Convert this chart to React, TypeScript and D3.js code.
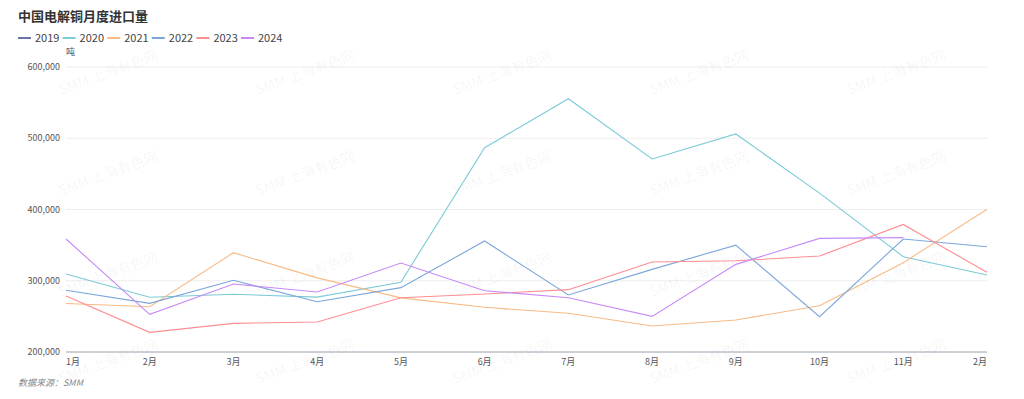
import React from 'react';
import * as d3 from 'd3';

const WIDTH = 1024;
const HEIGHT = 399;

const MARGIN = { top: 67, right: 37, bottom: 47, left: 66 };

const FONT = '"Noto Sans CJK SC", "Noto Sans", sans-serif';

// x categories (the last label reads "2月" in the source picture)
const MONTHS = ['1月', '2月', '3月', '4月', '5月', '6月', '7月', '8月', '9月', '10月', '11月', '2月'];

const YEARS = ['2019', '2020', '2021', '2022', '2023', '2024'];
const COLORS = ['#6a75a8', '#7ccbd8', '#f8bb85', '#7ba7da', '#ff8d92', '#c68af7'];

const Y_TICKS = [200000, 300000, 400000, 500000, 600000];

// monthly imports, tonnes
const V2019: (number | null)[] = [];
const V2020 = [309500, 276800, 281000, 277000, 298000, 486700, 555500, 470900, 506000, 423000, 333800, 308000];
const V2021 = [268000, 263600, 339400, 304000, 276000, 262700, 254300, 236500, 245000, 265000, 325400, 400300];
const V2022 = [286600, 268300, 300600, 270600, 290300, 355800, 280000, 316000, 350000, 249600, 358600, 347800];
const V2023 = [278600, 227600, 240200, 242000, 276200, 281400, 287500, 326300, 328000, 334700, 379000, 311800];
const V2024 = [358600, 252900, 295400, 284200, 324900, 286000, 276200, 250000, 323000, 359500, 360500, null];

const SERIES = [V2019, V2020, V2021, V2022, V2023, V2024];

const WM_X = [110, 307, 504, 701, 898];
const WM_Y = [77, 178, 279, 366];

export default function App() {
  const x = d3.scalePoint<number>()
    .domain(d3.range(MONTHS.length))
    .range([MARGIN.left, WIDTH - MARGIN.right]);

  const y = d3.scaleLinear()
    .domain([200000, 600000])
    .range([HEIGHT - MARGIN.bottom, MARGIN.top]);

  const fmt = d3.format(',');

  const line = d3.line<number | null>()
    .defined(d => d != null)
    .x((_, i) => x(i) as number)
    .y(d => y(d as number));

  const baseY = y(200000);

  return (
    <svg width={WIDTH} height={HEIGHT} viewBox={`0 0 ${WIDTH} ${HEIGHT}`}
      style={{ position: 'absolute', left: 0, top: 0, background: '#fff' }}
      fontFamily={FONT}>
      <text x={18} y={21} fontSize={13} fontWeight="bold" fill="#333">中国电解铜月度进口量</text>

      {YEARS.map((yr, i) => {
        const lx = 18 + i * 44.6;
        return (
          <g key={yr}>
            <line x1={lx} x2={lx + 13} y1={38} y2={38} stroke={COLORS[i]} strokeWidth={2} />
            <text x={lx + 17} y={42} fontSize={11} fill="#444">{yr}</text>
          </g>
        );
      })}

      <text x={MARGIN.left} y={55} fontSize={9} fill="#555">吨</text>

      {Y_TICKS.map(t => (
        <g key={t}>
          {t > 200000 && (
            <line x1={MARGIN.left} x2={WIDTH - MARGIN.right} y1={y(t)} y2={y(t)} stroke="#eeeeee" />
          )}
          <text x={MARGIN.left - 6} y={y(t) + 3} fontSize={9} fill="#555" textAnchor="end">{fmt(t)}</text>
        </g>
      ))}

      {WM_Y.map(wy => WM_X.map(wx => (
        <text key={`${wx}-${wy}`} x={wx} y={wy} fontSize={14} fill="#000" fillOpacity={0.05}
          textAnchor="middle" transform={`rotate(-20 ${wx} ${wy})`}>SMM 上海有色网</text>
      )))}

      {SERIES.map((s, i) => (
        <path key={YEARS[i]} d={line(s) || ''} fill="none" stroke={COLORS[i]} strokeWidth={1.1} />
      ))}

      <line x1={MARGIN.left} x2={WIDTH - MARGIN.right} y1={baseY} y2={baseY} stroke="#9aa0ae" />

      {MONTHS.map((m, i) => {
        const anchor = i === 0 ? 'start' : i === MONTHS.length - 1 ? 'end' : 'middle';
        return (
          <text key={i} x={x(i)} y={baseY + 13} fontSize={9} fill="#555" textAnchor={anchor}>{m}</text>
        );
      })}

      <text x={18} y={386} fontSize={9} fill="#888" fontStyle="italic">数据来源：SMM</text>
    </svg>
  );
}
